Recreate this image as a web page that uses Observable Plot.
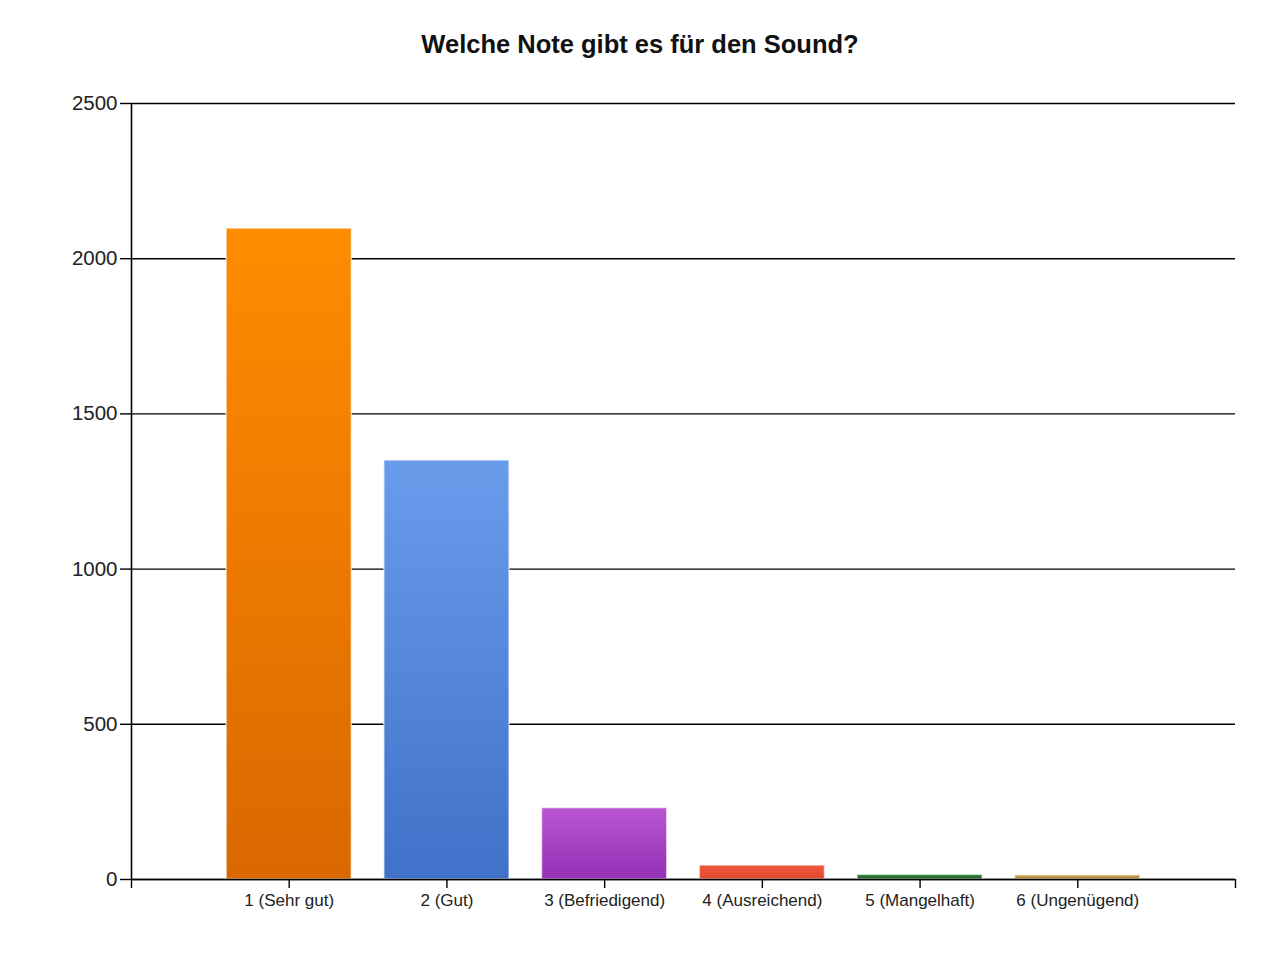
<!DOCTYPE html>
<html>
<head>
<meta charset="utf-8">
<script src="https://cdn.jsdelivr.net/npm/d3@7"></script>
<script src="https://cdn.jsdelivr.net/npm/@observablehq/plot@0.6"></script>
<style>
  body { margin: 0; background: #fff; font-family: "Liberation Sans", Arial, sans-serif; }
  #title { height: 80px; line-height: 88px; text-align: center; font-weight: bold; font-size: 25.5px; color: #111; }
</style>
</head>
<body>
<div id="title">Welche Note gibt es für den Sound?</div>
<div id="chart"></div>
<script>
const notes = [1, 2, 3, 4, 5, 6];
const labels = ["1 (Sehr gut)", "2 (Gut)", "3 (Befriedigend)", "4 (Ausreichend)", "5 (Mangelhaft)", "6 (Ungenügend)"];
const counts = [2097, 1350, 230, 45, 15, 14];
const topColors = ["#ff8c00", "#6a9cec", "#bb55d3", "#f0583c", "#2e8b3a", "#d9b26a"];
const bottomColors = ["#d96800", "#3f72c8", "#9330b4", "#e04a30", "#1f5a22", "#a07830"];
const yTicks = [0, 500, 1000, 1500, 2000, 2500];

const data = notes.map((n, i) => ({note: n, label: labels[i], count: counts[i]}));

const plot = Plot.plot({
  width: 1280,
  height: 880,
  marginTop: 23,
  marginBottom: 81,
  marginLeft: 131,
  marginRight: 45,
  style: {fontFamily: "'Liberation Sans', Arial, sans-serif", background: "#fff", color: "#222"},
  x: {domain: [0, 7]},
  y: {domain: [0, 2500]},
  marks: [
    Plot.ruleY(yTicks, {stroke: "#000", strokeWidth: 1.4, strokeOpacity: 1}),
    Plot.axisY({ticks: yTicks, tickFormat: d3.format("d"), tickSize: 11, tickPadding: 3, fontSize: 20.5, stroke: "#000", strokeWidth: 1.4, label: null}),
    Plot.axisX({ticks: [0, 1, 2, 3, 4, 5, 6, 7], tickFormat: d => labels[d - 1] ?? "", tickSize: 9, tickPadding: 5, fontSize: 17, stroke: "#000", strokeWidth: 1.4, label: null}),
    Plot.rectY(data, {
      x1: d => d.note - 0.397,
      x2: d => d.note + 0.397,
      y: "count",
      fill: d => `url(#grad${d.note})`,
      stroke: "#fff",
      strokeOpacity: 0.6,
      strokeWidth: 1.5
    }),
    Plot.ruleX([0], {stroke: "#000", strokeWidth: 1.6}),
    Plot.ruleY([0], {stroke: "#000", strokeWidth: 1.6})
  ]
});

const defs = d3.select(plot).insert("defs", ":first-child");
notes.forEach((n, i) => {
  const g = defs.append("linearGradient").attr("id", `grad${n}`).attr("x1", 0).attr("y1", 0).attr("x2", 0).attr("y2", 1);
  g.append("stop").attr("offset", "0%").attr("stop-color", topColors[i]);
  g.append("stop").attr("offset", "100%").attr("stop-color", bottomColors[i]);
});

document.getElementById("chart").appendChild(plot);
</script>
</body>
</html>
